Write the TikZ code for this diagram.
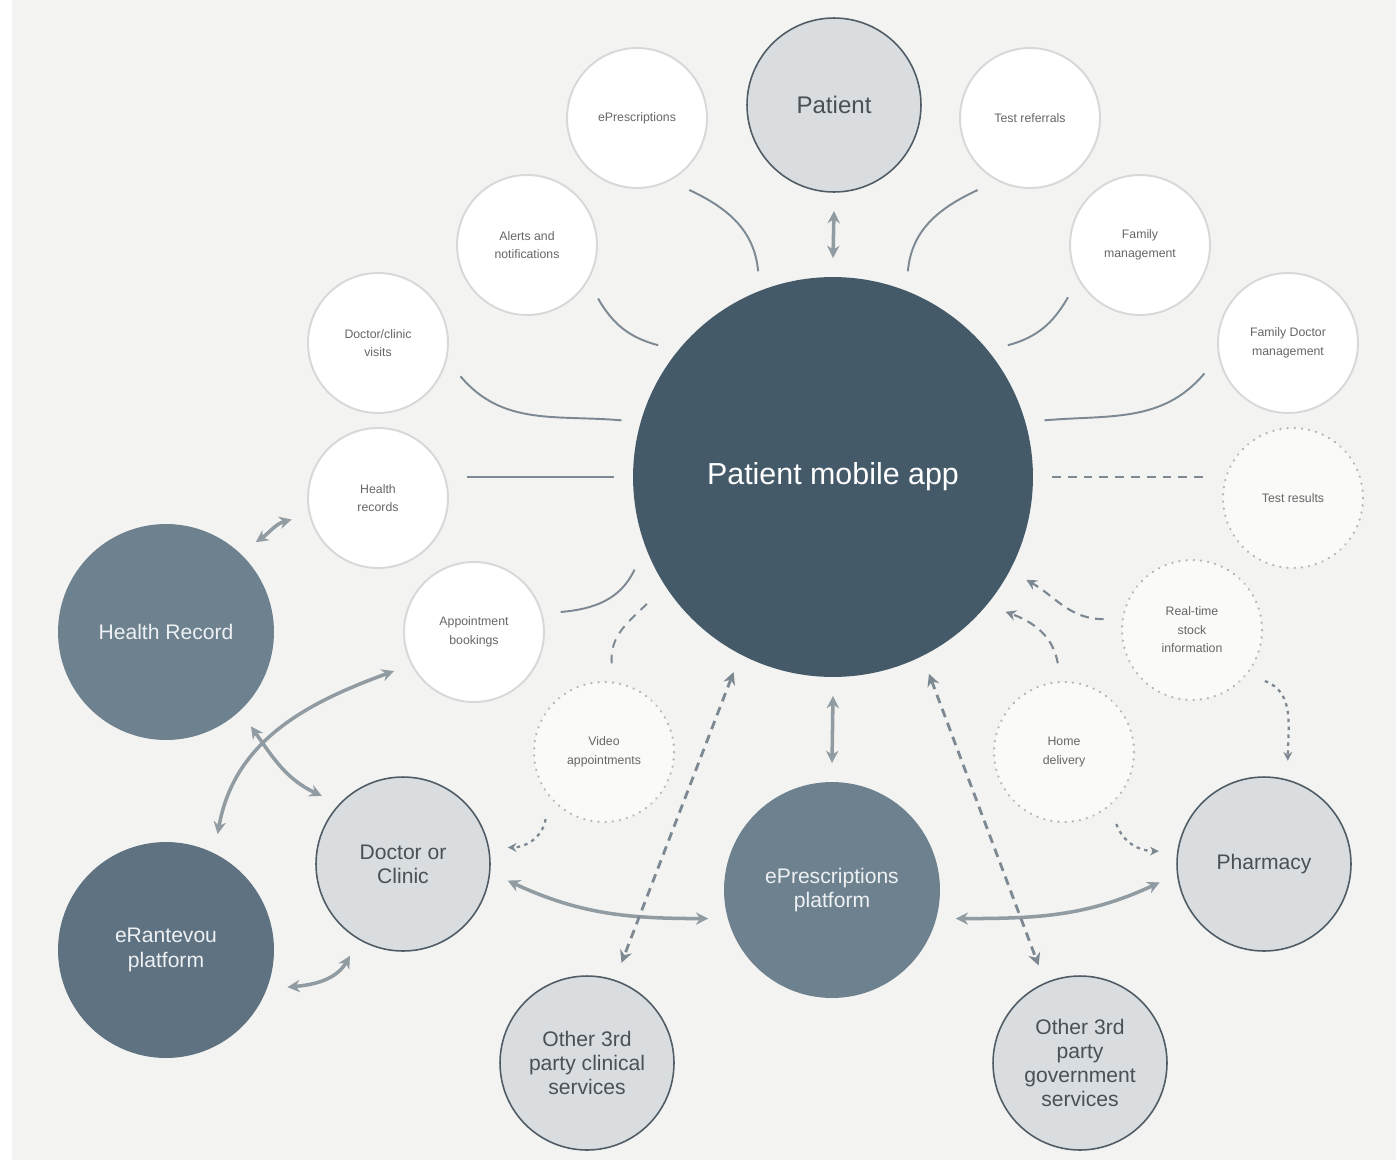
\documentclass[tikz,border=0pt]{standalone}
\usepackage{fontspec}
\setmainfont{Liberation Sans}
\usetikzlibrary{arrows.meta,calc}
\definecolor{appc}{HTML}{455A69}
\definecolor{midc}{HTML}{6E818F}
\definecolor{darkc}{HTML}{5F7281}
\definecolor{lightc}{HTML}{D9DDE0}
\definecolor{ringc}{HTML}{505C65}
\definecolor{smallring}{HTML}{D8D8D8}
\definecolor{linec}{HTML}{7C8992}
\definecolor{bgc}{HTML}{F3F3F1}
\definecolor{smalltext}{HTML}{666666}
\definecolor{labeltext}{HTML}{4A5056}
\definecolor{whitetext}{HTML}{EEF1F3}
\begin{document}
\begin{tikzpicture}[x=0.02cm,y=-0.02cm,
  smallc/.style={circle,draw=smallring,line width=1.1pt,fill=white,minimum size=2.8cm,
    inner sep=0pt,outer sep=0.38cm,align=center,text=smalltext,
    font=\fontsize{7}{10.5}\selectfont},
  dotc/.style={smallc,fill=bgc!40!white,draw=smallring!85!black,line width=1.4pt,
    dash pattern=on 0.1pt off 4pt,line cap=round},
  lightnode/.style={circle,draw=ringc,line width=0.9pt,fill=lightc,minimum size=3.48cm,
    inner sep=0pt,outer sep=0.38cm,align=center,text=labeltext,
    font=\fontsize{12}{13.8}\selectfont},
  midnode/.style={circle,draw=none,fill=midc,minimum size=4.32cm,inner sep=0pt,
    outer sep=0.38cm,align=center,text=whitetext,font=\fontsize{12}{13.8}\selectfont},
  thin/.style={draw=linec,line width=1.1pt},
  thindash/.style={draw=linec,line width=1.1pt,dash pattern=on 5pt off 4pt},
  dotarrow/.style={draw=linec,line width=1.3pt,dash pattern=on 2pt off 2.5pt,
    -{Stealth[length=5pt,width=5pt]}},
  bigarrow/.style={draw=linec!85,line width=2pt,
    {Stealth[length=7pt,width=7pt]}-{Stealth[length=7pt,width=7pt]}},
  dasharrow/.style={draw=linec,line width=1.6pt,dash pattern=on 5pt off 3.5pt,
    {Stealth[length=7pt,width=7pt]}-{Stealth[length=7pt,width=7pt]}},
  dashsingle/.style={draw=linec,line width=1.2pt,dash pattern=on 5pt off 3.5pt,
    -{Stealth[length=6pt,width=6pt]}}
]
% background
\fill[white] (0,0) rectangle (1396,1163);
\fill[bgc] (12,0) rectangle (1396,1160);
\useasboundingbox (0,0) rectangle (1396,1163);

% central app
\node[circle,fill=appc,minimum size=8cm,inner sep=0pt,outer sep=0.38cm,text=white,
  font=\fontsize{17.3}{20}\selectfont] (app) at (833,477) {Patient mobile app};

% patient
\node[lightnode,font=\fontsize{13.7}{16}\selectfont] (pat) at (834,105) {Patient};

% small satellites
\node[smallc] (epr) at (637,118) {ePrescriptions};
\node[smallc] (tref) at (1030,118) {Test referrals};
\node[smallc] (alert) at (527,245) {Alerts and\\notifications};
\node[smallc] (fam) at (1140,245) {Family\\management};
\node[smallc] (dcv) at (378,343) {Doctor/clinic\\visits};
\node[smallc] (fdm) at (1288,343) {Family Doctor\\management};
\node[smallc] (hrec) at (378,498) {Health\\records};
\node[dotc] (tres) at (1293,498) {Test results};
\node[smallc] (appt) at (474,632) {Appointment\\bookings};
\node[dotc] (rts) at (1192,630) {Real-time\\stock\\information};
\node[dotc] (video) at (604,752) {Video\\appointments};
\node[dotc] (home) at (1064,752) {Home\\delivery};

% big outer nodes
\node[midnode] (hr) at (166,632) {Health Record};
\node[midnode,fill=darkc] (eran) at (166,950) {eRantevou\\platform};
\node[midnode] (epp) at (832,890) {ePrescriptions\\platform};
\node[lightnode] (doc) at (403,864) {Doctor or\\Clinic};
\node[lightnode] (pharm) at (1264,864) {Pharmacy};
\node[lightnode] (o3c) at (587,1063) {Other 3rd\\party clinical\\services};
\node[lightnode] (o3g) at (1080,1063) {Other 3rd\\party\\government\\services};

% thin connectors from satellites to app
\draw[thin] (epr.-54) to[out=-25,in=95] (app.110);
\draw[thin] (tref.234) to[out=205,in=85] (app.70);
\draw[thin] (alert.-37) to[out=-60,in=165] (app.143);
\draw[thin] (fam.216) to[out=-120,in=15] (app.37);
\draw[thin] (dcv.-22) to[out=-50,in=175] (app.165);
\draw[thin] (fdm.200) to[out=-130,in=5] (app.15);
\draw[thin] (app.west -| hrec.east) -- (app.west);
\draw[thindash] (app.east) -- (app.east -| tres.west);
\draw[thin] (appt.13) to[out=5,in=245] (app.205);
\draw[thindash] (video.85) to[out=95,in=225] (app.214);
\draw[dashsingle] (rts.173) to[out=180,in=-30] (app.-28);
\draw[dashsingle] (home.94) to[out=100,in=-20] (app.-38);

% vertical double arrows
\draw[bigarrow] (pat.south) -- (app.north);
\draw[bigarrow] (app.south) -- (epp.north);

% left side connections
\draw[bigarrow] (hr.45) to[out=35,in=195] (hrec.194);
\draw[bigarrow] (hr.-48) to[out=-55,in=155] (doc.140);
\draw[bigarrow] (eran.66) to[out=80,in=200] (appt.206);
\draw[bigarrow] (eran.-17) to[out=5,in=240] (doc.240);
\draw[bigarrow] (doc.-9) to[out=-25,in=180] (epp.193);
\draw[bigarrow] (epp.-13) to[out=0,in=205] (pharm.190);

% dotted arrows
\draw[dotarrow] (rts.-35) to[out=-20,in=90] (pharm.77);
\draw[dotarrow] (home.-54) to[out=-70,in=180] (pharm.173);
\draw[dotarrow] (video.229) to[out=-100,in=0] (doc.9);

% dashed double arrows to 3rd parties
\draw[dasharrow] (app.243) -- (o3c.71);
\draw[dasharrow] (app.-64) -- (o3g.113);
\end{tikzpicture}
\end{document}
